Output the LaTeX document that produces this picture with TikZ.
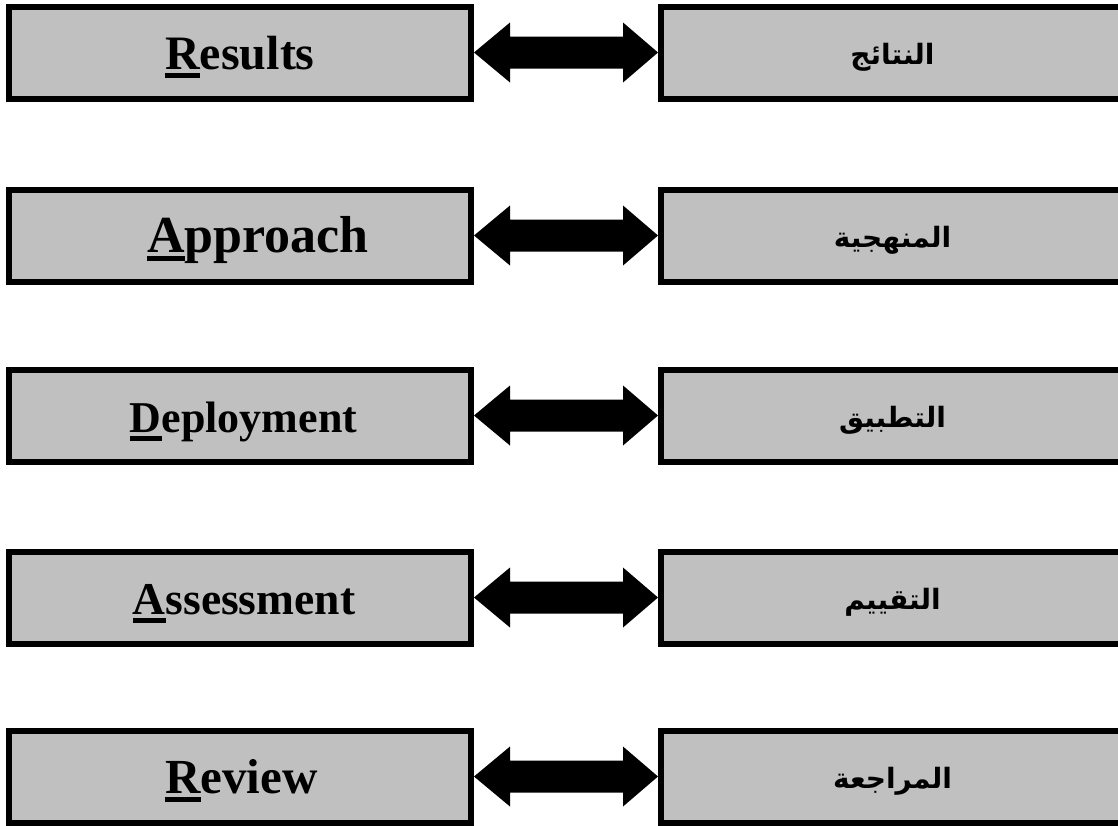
\documentclass[tikz,border=0pt]{standalone}
\usepackage{fontspec}
\setmainfont{Liberation Serif}
\newfontfamily\arabicfont[Script=Arabic]{DejaVu Sans}
\TeXXeTstate=1
\usetikzlibrary{calc}
\definecolor{boxgray}{RGB}{192,192,192}
\newcommand{\firstul}[1]{\setbox0\hbox{#1}\rlap{\rule[-8pt]{\wd0}{4.5pt}}\box0}
\newcommand{\blockarrow}[2]{%
  \fill[black] (#1.east) -- ++(36,-30) -- ++(0,14) -- ($(#2.west)+(-35,-16)$)
    -- ++(0,-14) -- (#2.west) -- ++(-35,30) -- ++(0,-14)
    -- ($(#1.east)+(36,16)$) -- ++(0,14) -- cycle;}
\begin{document}
\begin{tikzpicture}[x=1pt,y=-1pt,
  enbox/.style={draw=black, line width=6pt, fill=boxgray,
    minimum width=462pt, minimum height=92pt, inner sep=0pt,
    font=\fontsize{48}{50}\selectfont\bfseries, text height=34pt, text depth=0pt},
  entext/.style={inner sep=0pt, text height=34pt, text depth=0pt},
  arbox/.style={draw=black, line width=6pt, fill=boxgray,
    minimum width=463pt, minimum height=92pt, inner sep=0pt,
    font=\arabicfont\bfseries\fontsize{28}{32}\selectfont,
    text height=24pt, text depth=0pt}]
\useasboundingbox (0,0) rectangle (1118,825);
\node[enbox] (L1) at (240,52.5) {\firstul{R}esults};
\node[enbox] (L2) at (240,235.5) {};
\node[entext, font=\fontsize{52}{54}\selectfont\bfseries] (T2) at (258,235.5) {\firstul{A}pproach};
\node[enbox] (L3) at (240,415.5) {};
\node[entext, font=\fontsize{44}{46}\selectfont\bfseries] (T3) at (243.5,415.5) {\firstul{D}eployment};
\node[enbox] (L4) at (240,597.5) {};
\node[entext, font=\fontsize{45.5}{48}\selectfont\bfseries] (T4) at (244,597.5) {\firstul{A}ssessment};
\node[enbox] (L5) at (240,776.5) {};
\node[entext, font=\fontsize{49}{51}\selectfont\bfseries] (T5) at (241.5,776.5) {\firstul{R}eview};
\node[arbox] (R1) at (892.5,52.5) {\beginR النتائج\endR};
\node[arbox] (R2) at (892.5,235.5) {\beginR المنهجية\endR};
\node[arbox] (R3) at (892.5,415.5) {\beginR التطبيق\endR};
\node[arbox] (R4) at (892.5,597.5) {\beginR التقييم\endR};
\node[arbox] (R5) at (892.5,776.5) {\beginR المراجعة\endR};
\blockarrow{L1}{R1}
\blockarrow{L2}{R2}
\blockarrow{L3}{R3}
\blockarrow{L4}{R4}
\blockarrow{L5}{R5}
\end{tikzpicture}
\end{document}
